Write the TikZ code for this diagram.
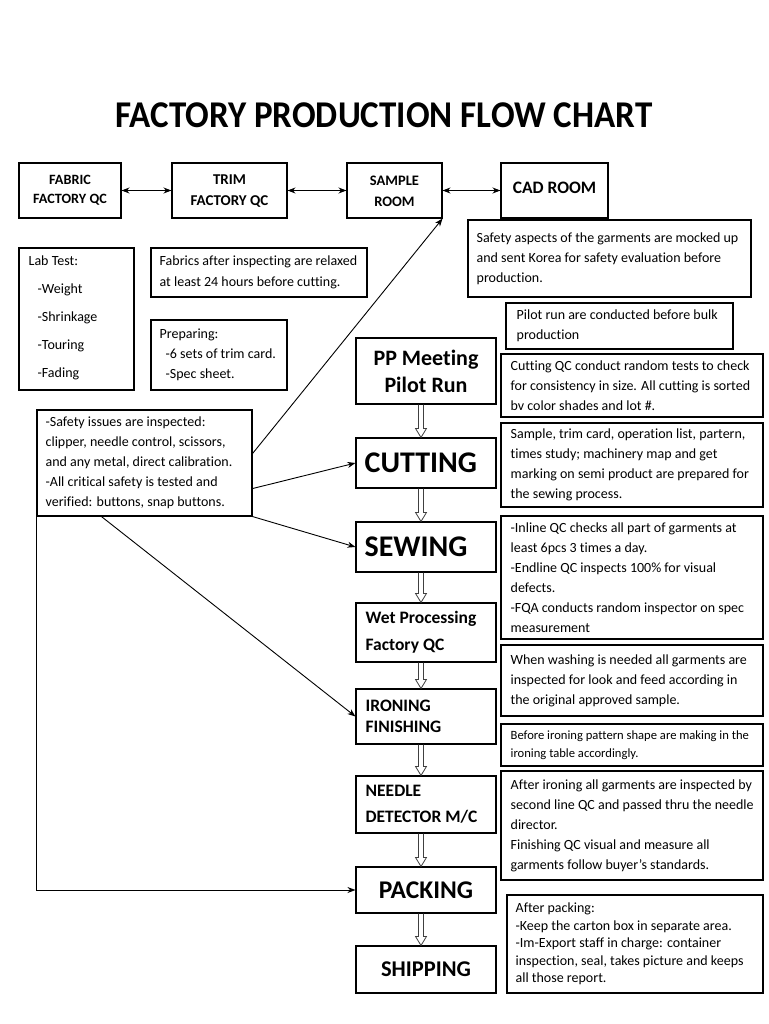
\documentclass[tikz,border=0pt]{standalone}
\usepackage{fontspec}
\setmainfont{Carlito}[Ligatures=NoCommon]
\usetikzlibrary{calc,arrows.meta}
\tikzset{
  rect/.style={draw=black, line width=1.1pt, inner sep=0pt},
  txt/.style={inner sep=0pt, align=left, font=\fontsize{14}{20}\selectfont},
  ctxt/.style={inner sep=0pt, align=center},
  conn/.style={draw=black, line width=0.9pt},
  arr/.style={conn, -{Stealth[length=8pt,width=6pt]}},
  darr/.style={conn, {Stealth[length=8pt,width=6pt]}-{Stealth[length=8pt,width=6pt]}},
  hol/.style={draw=black!75, line width=0.8pt},
}
\newcommand\mkbox[5]{%
  \pgfmathsetlengthmacro\bw{(#4-#2)*1pt}%
  \pgfmathsetlengthmacro\bh{(#5-#3)*1pt}%
  \node[rect, minimum width=\bw, minimum height=\bh] (#1) at ({(#2+#4)/2},{(#3+#5)/2}) {};}
\newcommand\hollow[2]{%
  \coordinate (hT) at ([xshift=-5pt]#1.south);
  \coordinate (hB) at ([xshift=-5pt]#2.north);
  \draw[hol] ($(hT)+(-2.5,0)$) -- ($(hB)+(-2.5,-9)$) -- ($(hB)+(-5.5,-9)$) -- (hB)
     -- ($(hB)+(5.5,-9)$) -- ($(hB)+(2.5,-9)$) -- ($(hT)+(2.5,0)$);}
\begin{document}
\begin{tikzpicture}[x=1pt,y=-1pt]
\useasboundingbox (0,0) rectangle (768,1024);
\fill[white] (0,0) rectangle (768,1024);

\node[ctxt, font=\fontsize{35}{40}\bfseries] (title) at (384,115) {\scalebox{1}[1.08]{FACTORY PRODUCTION FLOW CHART}};

% top row
\mkbox{fabric}{19}{163}{121}{218}
\node[ctxt, font=\fontsize{14.2}{19}\bfseries] (fabrict) at (fabric.center) {FABRIC\\FACTORY QC};
\mkbox{trim}{172}{163}{287}{218}
\node[ctxt, font=\fontsize{15}{21}\bfseries] (trimt) at ([yshift=-1pt]trim.center) {TRIM\\FACTORY QC};
\mkbox{sample}{347}{163}{442}{218}
\node[ctxt, font=\fontsize{14.5}{21}\bfseries] (samplet) at ([yshift=-1pt]sample.center) {SAMPLE\\ROOM};
\mkbox{cad}{501}{163}{608}{218}
\node[ctxt, font=\fontsize{17.5}{20}\bfseries] (cadt) at ([yshift=3pt]cad.center) {CAD ROOM};

\draw[darr] (fabric) -- (trim);
\draw[darr] (trim) -- (sample);
\draw[darr] (sample) -- (cad);

% left notes
\mkbox{lab}{19}{248}{134}{390}
\node[txt, font=\fontsize{14}{28}\selectfont, anchor=west] (labt) at ([xshift=10pt,yshift=1pt]lab.west)
  {Lab Test:\\\hspace*{9pt}-Weight\\\hspace*{9pt}-Shrinkage\\\hspace*{9pt}-Touring\\\hspace*{9pt}-Fading};
\mkbox{relax}{151}{248}{367}{297}
\node[txt, font=\fontsize{14}{21}\selectfont, anchor=west] (relaxt) at ([xshift=9pt]relax.west)
  {Fabrics after inspecting are relaxed\\at least 24 hours before cutting.};
\mkbox{prep}{151}{320}{287}{390}
\node[txt, anchor=west] (prept) at ([xshift=9pt]prep.west)
  {Preparing:\\\hspace*{6pt}-6 sets of trim card.\\\hspace*{6pt}-Spec sheet.};
\mkbox{safety}{37}{410}{252}{516}
\node[txt, anchor=west] (safetyt) at ([xshift=9pt]safety.west)
  {-Safety issues are inspected:\\clipper, needle control, scissors,\\and any metal, direct calibration.\\-All critical safety is tested and\\verified: buttons, snap buttons.};

% right notes
\mkbox{mock}{468}{220}{751}{297}
\node[txt, anchor=west] (mockt) at ([xshift=9pt]mock.west)
  {Safety aspects of the garments are mocked up\\and sent Korea for safety evaluation before\\production.};
\mkbox{pilot}{506}{303}{733}{349}
\node[txt, anchor=west] (pilott) at ([xshift=11pt]pilot.west)
  {Pilot run are conducted before bulk\\production};
\mkbox{cutqc}{501}{354}{763}{417}
\node[txt, anchor=west] (cutqct) at ([xshift=10pt]cutqc.west)
  {Cutting QC conduct random tests to check\\for consistency in size. All cutting is sorted\\bv color shades and lot \#.};
\mkbox{prepsew}{501}{423}{763}{507}
\node[txt, anchor=west] (prepsewt) at ([xshift=10pt]prepsew.west)
  {Sample, trim card, operation list, partern,\\times study; machinery map and get\\marking on semi product are prepared for\\the sewing process.};
\mkbox{inline}{501}{516}{763}{639}
\node[txt, anchor=west] (inlinet) at ([xshift=10pt]inline.west)
  {-Inline QC checks all part of garments at\\least 6pcs 3 times a day.\\-Endline QC inspects 100\% for visual\\defects.\\-FQA conducts random inspector on spec\\measurement};
\mkbox{wash}{501}{645}{763}{716}
\node[txt, anchor=west] (washt) at ([xshift=10pt]wash.west)
  {When washing is needed all garments are\\inspected for look and feed according in\\the original approved sample.};
\mkbox{before}{501}{724}{763}{766}
\node[txt, font=\fontsize{12.6}{18}\selectfont, anchor=west] (beforet) at ([xshift=10pt]before.west)
  {Before ironing pattern shape are making in the\\ironing table accordingly.};
\mkbox{after}{501}{771}{763}{880}
\node[txt, anchor=west] (aftert) at ([xshift=10pt]after.west)
  {After ironing all garments are inspected by\\second line QC and passed thru the needle\\director.\\Finishing QC visual and measure all\\garments follow buyer’s standards.};
\mkbox{packn}{507}{895}{763}{993}
\node[txt, font=\fontsize{14}{17.5}\selectfont, anchor=west] (packnt) at ([xshift=9pt]packn.west)
  {After packing:\\-Keep the carton box in separate area.\\-Im-Export staff in charge: container\\inspection, seal, takes picture and keeps\\all those report.};

% main flow
\mkbox{pp}{356}{338}{496}{404}
\node[ctxt, font=\fontsize{22}{27}\bfseries] (ppt) at (pp.center) {PP Meeting\\Pilot Run};
\mkbox{cutting}{356}{438}{496}{488}
\node[txt, font=\fontsize{30}{31}\bfseries, anchor=west] (cuttingt) at ([xshift=9pt]cutting.west) {CUTTING};
\mkbox{sewing}{356}{522}{496}{572}
\node[txt, font=\fontsize{30}{31}\bfseries, anchor=west] (sewingt) at ([xshift=9pt]sewing.west) {SEWING};
\mkbox{wet}{356}{603}{496}{662}
\node[txt, font=\fontsize{17.5}{27}\bfseries, anchor=west] (wett) at ([xshift=10pt]wet.west) {Wet Processing\\Factory QC};
\mkbox{iron}{356}{689}{496}{744}
\node[txt, font=\fontsize{17.5}{21}\bfseries, anchor=west] (percent) at ([xshift=10pt]iron.west) {IRONING\\FINISHING};
\mkbox{needle}{356}{776}{496}{833}
\node[txt, font=\fontsize{17.5}{26}\bfseries, anchor=west] (needlet) at ([xshift=10pt]needle.west) {NEEDLE\\DETECTOR M/C};
\mkbox{packing}{356}{867}{496}{913}
\node[ctxt, font=\fontsize{25.5}{28}\bfseries] (packingt) at (packing.center) {PACKING};
\mkbox{shipping}{356}{946}{496}{993}
\node[ctxt, font=\fontsize{22.5}{26}\bfseries] (shippingt) at (shipping.center) {SHIPPING};

\hollow{pp}{cutting}
\hollow{cutting}{sewing}
\hollow{sewing}{wet}
\hollow{wet}{iron}
\hollow{iron}{needle}
\hollow{needle}{packing}
\hollow{packing}{shipping}

% connectors from safety box
\draw[arr] ([yshift=63pt]safety.south east) -- (sample.south east);
\draw[arr] ([yshift=28pt]safety.south east) -- (cutting.west);
\draw[arr] (safety.south east) -- (sewing.west);
\draw[arr] ([xshift=65pt]safety.south west) -- (iron.west);
\draw[arr] (safety.south west) |- (packing.west);
\end{tikzpicture}
\end{document}
